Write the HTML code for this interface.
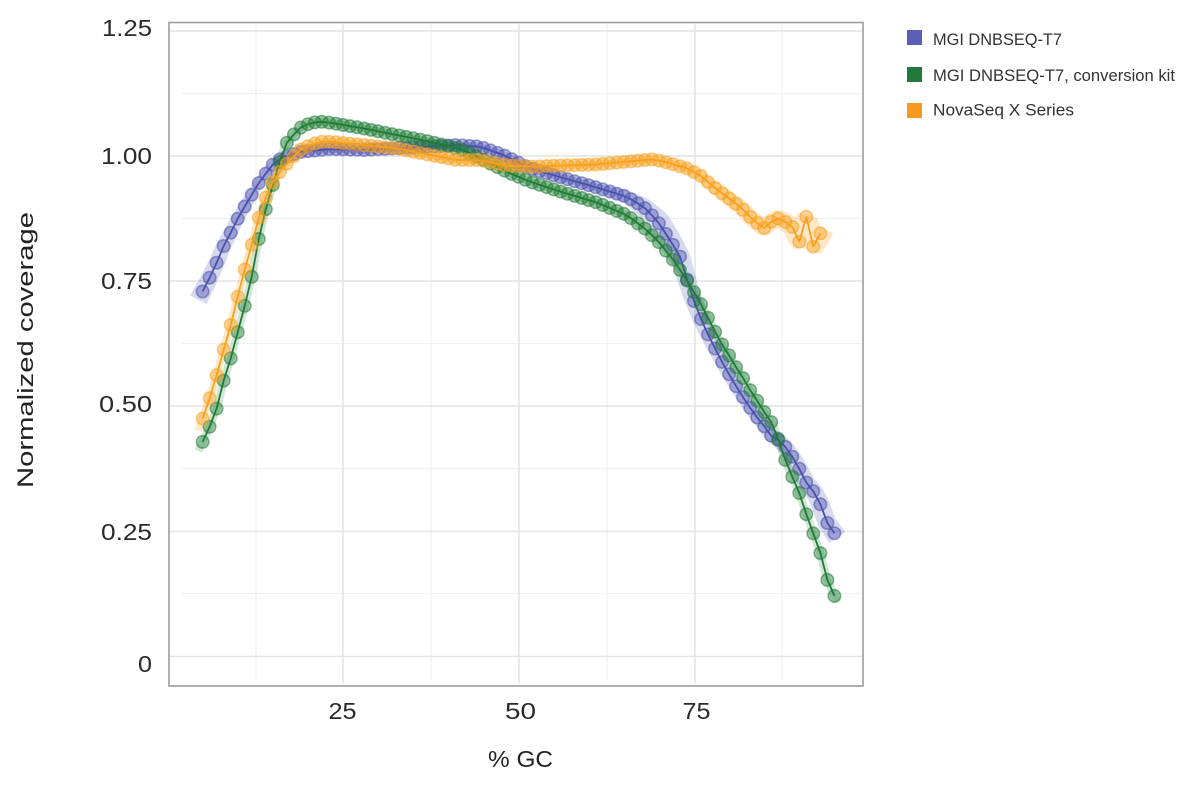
<!DOCTYPE html>
<html>
<head>
<meta charset="utf-8">
<style>
  html,body{margin:0;padding:0;background:#fff;}
  svg{display:block;}
  text{font-family:"Liberation Sans", Arial, sans-serif;}
</style>
</head>
<body>
<svg id="chart" xmlns="http://www.w3.org/2000/svg" width="1200" height="785" viewBox="0 0 1200 785">
  <rect x="0" y="0" width="1200" height="785" fill="#ffffff"/>
  <!-- minor grid -->
  <g stroke="#f1f1f1" stroke-width="1.3">
    <line x1="182" y1="93.5" x2="862" y2="93.5"/>
    <line x1="182" y1="218.5" x2="862" y2="218.5"/>
    <line x1="182" y1="343.5" x2="862" y2="343.5"/>
    <line x1="182" y1="468.5" x2="862" y2="468.5"/>
    <line x1="182" y1="593.5" x2="862" y2="593.5"/>
    <line x1="256" y1="24" x2="256" y2="681"/>
    <line x1="431" y1="24" x2="431" y2="681"/>
    <line x1="607" y1="24" x2="607" y2="681"/>
    <line x1="782" y1="24" x2="782" y2="681"/>
  </g>
  <!-- major grid -->
  <g stroke="#e4e4e4" stroke-width="1.6">
    <line x1="170" y1="31" x2="862" y2="31"/>
    <line x1="170" y1="156" x2="862" y2="156"/>
    <line x1="170" y1="281" x2="862" y2="281"/>
    <line x1="170" y1="406" x2="862" y2="406"/>
    <line x1="170" y1="531.5" x2="862" y2="531.5"/>
    <line x1="170" y1="656.5" x2="862" y2="656.5"/>
    <line x1="343" y1="24" x2="343" y2="684"/>
    <line x1="519" y1="24" x2="519" y2="684"/>
    <line x1="695" y1="24" x2="695" y2="684"/>
  </g>
  <g id="plot"></g>
  <!-- frame -->
  <rect x="169" y="22.5" width="694" height="663.5" fill="none" stroke="#9c9c9c" stroke-width="1.6"/>

  <!-- y tick labels -->
  <g fill="#2a2a2a" font-size="23" text-anchor="end">
    <text x="152" y="36" textLength="50" lengthAdjust="spacingAndGlyphs">1.25</text>
    <text x="152" y="164" textLength="51" lengthAdjust="spacingAndGlyphs">1.00</text>
    <text x="152" y="289" textLength="51" lengthAdjust="spacingAndGlyphs">0.75</text>
    <text x="152" y="412" textLength="53" lengthAdjust="spacingAndGlyphs">0.50</text>
    <text x="152" y="540" textLength="51" lengthAdjust="spacingAndGlyphs">0.25</text>
    <text x="152" y="672" textLength="14" lengthAdjust="spacingAndGlyphs">0</text>
  </g>
  <!-- x tick labels -->
  <g fill="#2a2a2a" font-size="23">
    <text x="328.5" y="719" textLength="28" lengthAdjust="spacingAndGlyphs">25</text>
    <text x="505" y="719" textLength="31" lengthAdjust="spacingAndGlyphs">50</text>
    <text x="682.5" y="719" textLength="28" lengthAdjust="spacingAndGlyphs">75</text>
  </g>
  <!-- axis titles -->
  <text x="488" y="767" font-size="23" fill="#222" textLength="65" lengthAdjust="spacingAndGlyphs">% GC</text>
  <text transform="translate(33,350) rotate(-90)" x="0" y="0" font-size="22" fill="#222" text-anchor="middle" textLength="276" lengthAdjust="spacingAndGlyphs">Normalized coverage</text>

  <!-- legend -->
  <rect x="907" y="30" width="15" height="15" fill="#5a5fb6"/>
  <rect x="907" y="67" width="15" height="15" fill="#217a3b"/>
  <rect x="907" y="103" width="15" height="15" fill="#f7981f"/>
  <g fill="#333" font-size="16.5">
    <text x="933" y="45" textLength="129" lengthAdjust="spacingAndGlyphs">MGI DNBSEQ-T7</text>
    <text x="933" y="81" textLength="242" lengthAdjust="spacingAndGlyphs">MGI DNBSEQ-T7, conversion kit</text>
    <text x="933" y="115.5" textLength="141" lengthAdjust="spacingAndGlyphs">NovaSeq X Series</text>
  </g>
</svg>
<script>
(function(){
  const NS='http://www.w3.org/2000/svg';
  const plot=document.getElementById('plot');
  const X=g=>167.5+7.02*g;
  function mk(tag,attrs,parent){const e=document.createElementNS(NS,tag);for(const k in attrs)e.setAttribute(k,attrs[k]);parent.appendChild(e);return e;}
  function interp(p,x){
    const n=p.length;
    if(x<=p[0][0]){return p[0][1]+(p[1][1]-p[0][1])/(p[1][0]-p[0][0])*(x-p[0][0]);}
    for(let i=1;i<n;i++){if(x<=p[i][0]){const a=p[i-1],b=p[i];return a[1]+(b[1]-a[1])*(x-a[0])/(b[0]-a[0]);}}
    return p[n-1][1]+(p[n-1][1]-p[n-2][1])/(p[n-1][0]-p[n-2][0])*(x-p[n-1][0]);
  }
  const blue=[[201.7,293.3],[210,277],[216.7,262.7],[223.3,246.7],[230.7,232.7],[237.7,218.7],[245,206],[251,196],[259,182.7],[266,173.3],[272.3,165],[278.3,160],[286.7,156.5],[300,152],[320,150],[330,149],[363.3,150],[396.7,148.3],[430,146.7],[456.7,145],[480,146.7],[503.3,155],[530,168.3],[563.3,178],[596.7,187.5],[626.7,196.7],[643.3,206.7],[656.7,220],[670,240],[680,256.7],[691.7,295],[700,316.7],[706.7,331.7],[713.3,345],[720,358.3],[726.7,370],[733.3,381.7],[741.7,395],[748.3,405],[755,415],[763.3,425],[770,435],[778.3,440],[786.7,448.3],[793.3,458.3],[800,470],[806.7,483.3],[815,493.3],[820,503.3],[826.7,522],[833.3,531.7]];
  const green=[[202.7,441.7],[210,426],[218.3,404.3],[223.3,381.7],[230.7,358.3],[238.3,330],[246,301],[252.7,272.7],[259,237.7],[266,208.3],[273.3,183.3],[285,145],[293.3,135],[301.7,126.7],[311.7,122.7],[323.3,121.7],[333.3,123.3],[363.3,128.3],[396.7,135],[430,141.7],[463.3,150],[486.7,161.7],[506.7,171.7],[530,181.7],[563.3,192.5],[596.7,202.5],[626.7,215],[646.7,230],[660,243.3],[673.3,260],[686.7,280],[696.7,296.7],[703.3,308.3],[710,321.7],[716.7,335],[723.3,346.7],[730,356.7],[736.7,368.3],[743.3,378.3],[750,390],[756.7,400],[765,413.3],[773.3,425],[778,438],[783.3,455],[790,471.7],[798.3,490],[806,513.3],[813.3,533.3],[820,551.7],[826.7,578.3],[834,595]];
  const orange=[[202.7,418.3],[209.3,399.3],[216.7,375],[223.3,351],[230,327.7],[237.3,298.3],[244.3,271],[251,247.7],[257.7,221],[265,199.3],[272,183.3],[280,171.7],[290,160],[300,150],[310,145],[320,141.7],[330,141.7],[363.3,145],[396.7,148.3],[430,155],[456.7,160],[480,160],[503.3,165],[530,166.7],[563.3,165.5],[596.7,164.5],[626.7,161.7],[653.3,159.3],[670,163.3],[686.7,168.3],[700,175],[713.3,186.7],[726.7,196.7],[740,206.7],[753.3,220],[764.2,228],[771.2,221.7],[778.2,218.5],[785.3,222],[792.3,227],[799.3,241.7],[806.3,216.7],[813.3,246.7],[820.4,233.3]];
  const wBlue=[[190,10],[230,7],[260,5],[300,4],[600,4],[630,7],[660,12],[690,9],[720,7],[760,6],[790,8],[845,10]];
  const wGreen=[[190,4],[850,4]];
  const wOrange=[[190,4],[690,4],[720,7],[780,9],[830,12]];
  const S=[
    {pts:blue,g0:5,g1:95,c:'#4a50ae',w:wBlue,bo:0.22},
    {pts:green,g0:5,g1:95,c:'#1e7b34',w:wGreen,bo:0.2},
    {pts:orange,g0:5,g1:93,c:'#f7a01c',w:wOrange,bo:0.25}
  ];
  const gb=mk('g',{},plot);
  S.forEach(s=>{
    const B=[];
    for(let g=s.g0-0.6;g<=s.g1+0.45;g+=0.25){const x=X(g);B.push([x,interp(s.pts,x)]);}
    const up=[],lo=[];
    for(let i=0;i<B.length;i++){
      const a=B[Math.max(0,i-1)],b=B[Math.min(B.length-1,i+1)];
      let tx=b[0]-a[0],ty=b[1]-a[1];const L=Math.hypot(tx,ty)||1;tx/=L;ty/=L;
      const w=interp(s.w,B[i][0]);
      up.push([B[i][0]-ty*w,B[i][1]+tx*w]);lo.push([B[i][0]+ty*w,B[i][1]-tx*w]);
    }
    const poly=up.concat(lo.reverse()).map(p=>p[0].toFixed(1)+','+p[1].toFixed(1)).join(' ');
    mk('polygon',{points:poly,fill:s.c,'fill-opacity':s.bo,stroke:'none'},gb);
  });
  S.forEach(s=>{
    const g=mk('g',{},plot);
    const P=[];
    for(let k=s.g0;k<=s.g1;k++){const x=X(k);P.push([x,interp(s.pts,x)]);}
    mk('polyline',{points:P.map(p=>p[0].toFixed(1)+','+p[1].toFixed(1)).join(' '),fill:'none',stroke:s.c,'stroke-width':1.8,'stroke-linejoin':'round'},g);
    P.forEach(p=>{
      mk('circle',{cx:p[0].toFixed(1),cy:p[1].toFixed(1),r:6.2,fill:s.c,'fill-opacity':0.42,stroke:s.c,'stroke-opacity':0.55,'stroke-width':1.6},g);
    });
  });
})();
</script>
</body>
</html>
